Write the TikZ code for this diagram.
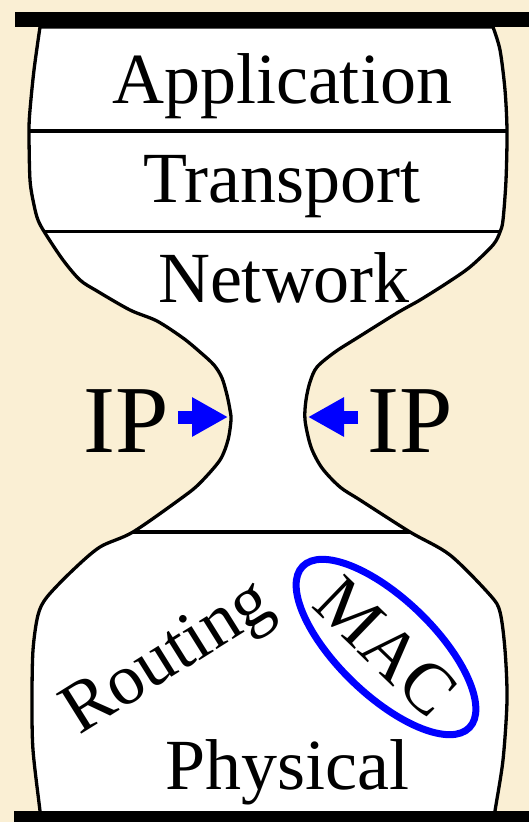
\documentclass[tikz,border=0pt]{standalone}
\usepackage{fontspec}
\setmainfont{Liberation Serif}
\usetikzlibrary{arrows.meta,shapes.geometric}

\definecolor{bgcream}{RGB}{250,239,212}
\definecolor{ipblue}{RGB}{0,0,255}

% outline of the hourglass, left side top-down, right side bottom-up
\def\hourglass{plot[smooth,tension=0.5] coordinates {
    (40,27) (34,70) (30,110) (29,131) (30,180) (34,205) (38,220) (45,233)
    (63,260) (80,280) (97,291) (130,310) (157,321) (183,338) (200,352)
    (214,365) (222,378) (227,395) (230,410) (231,420) (228,440) (220,460)
    (200,483) (183,497) (133,532) (100,547) (73,570) (47,597) (38,615)
    (33,650) (32,700) (33,750) (40,811) (41,822)}
  -- plot[smooth,tension=0.5] coordinates {
    (494,822) (495,811) (503,760) (507,700) (505,650) (500,612) (490,595)
    (450,555) (410,532) (360,500) (340,487) (322,468) (311,447) (305,420)
    (306,400) (310,382) (317,367) (335,352) (357,338) (397,313) (420,300)
    (447,283) (470,267) (493,245) (500,232) (503,220) (506,180) (507,131)
    (505,90) (500,50) (493,27)}
  -- cycle}

\tikzset{
  layertext/.style={font=\fontsize{72}{80}\selectfont, inner sep=0pt, anchor=base},
  iptext/.style={font=\fontsize{96}{104}\selectfont, inner sep=0pt, anchor=base},
  ipArrow/.style={ipblue, line width=13pt,
    -{Triangle[length=36pt 0, width=37pt 0]}},
  outline/.style={line width=3.3pt, line join=round},
  divider/.style={line width=3.3pt},
  bar/.style={fill=black}
}

\begin{document}
\begin{tikzpicture}[x=1pt,y=-1pt]
  \useasboundingbox (0,0) rectangle (529,822);
  \fill[bgcream] (0,0) rectangle (529,822);

  % white body
  \fill[white] \hourglass;

  % layer dividers, clipped to the body
  \begin{scope}
    \clip \hourglass;
    \draw[divider] (0,131) -- (529,131);
    \draw[divider] (0,231.5) -- (529,231.5);
    \draw[divider] (0,532) -- (529,532);
  \end{scope}

  \draw[outline] \hourglass;

  % top and bottom bars
  \fill[bar] (15,12) rectangle (529,27);
  \fill[bar] (14,811) rectangle (529,822);

  % layer names
  \node[layertext] (app) at (282,103) {Application};
  \node[layertext] (trans) at (282,202) {Transport};
  \node[layertext] (net) at (284,302) {Network};
  \node[layertext] (phys) at (287,789) {Physical};

  \node[layertext, rotate=32] (rout) at (178,674) {Routing};
  \node[draw=ipblue, line width=7pt, ellipse, rotate=-44,
        inner sep=0pt, minimum width=216pt, minimum height=96pt,
        font=\fontsize{72}{80}\selectfont] (mac) at (386,647) {MAC};

  % IP labels with arrows pointing at the waist
  \node[iptext] (ipL) at (126,452) {IP};
  \node[iptext] (ipR) at (410,452) {IP};
  \coordinate (tipL) at (228,417);
  \coordinate (tipR) at (308,417);
  \draw[ipArrow, shorten <=9pt] (ipL.east |- tipL) -- (tipL);
  \draw[ipArrow, shorten <=9pt] (ipR.west |- tipR) -- (tipR);
\end{tikzpicture}
\end{document}
